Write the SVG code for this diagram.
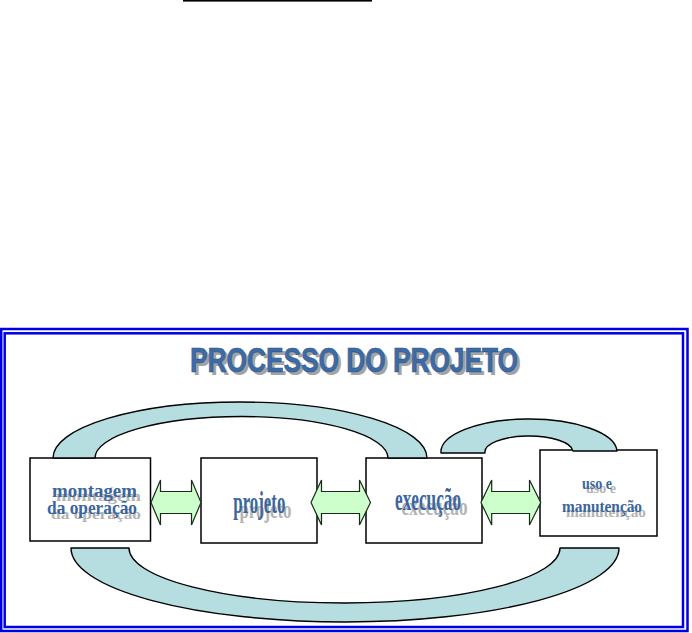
<svg xmlns="http://www.w3.org/2000/svg" width="692" height="633" viewBox="0 0 692 633">
  <style>
    .frame { fill: none; stroke: #0000e0; stroke-width: 2.5; }
    .box { fill: #ffffff; stroke: #000000; stroke-width: 1.5; }
    .arc { fill: #b6dde0; stroke: #000000; stroke-width: 1.4; stroke-linejoin: round; }
    .dbl { fill: #ccffcc; stroke: #1a2a1a; stroke-width: 1.2; stroke-linejoin: miter; }
    .lbl { font-family: "Liberation Serif", "Times New Roman", serif; font-weight: bold; fill: #3b669d; }
    .shd { font-family: "Liberation Serif", "Times New Roman", serif; font-weight: bold; fill: #9a9a9a; opacity: 0.75; }
    .title { font-family: "Liberation Sans", Arial, sans-serif; font-weight: bold; font-size: 35px; }
  </style>

  <rect x="183" y="0" width="189" height="1.6" fill="#000000"/>

  <rect class="frame" x="1.2" y="329" width="686.3" height="302"/>
  <rect class="frame" x="4.7" y="333.3" width="678.3" height="293.7"/>

  <g id="title">
    <text class="title" x="193" y="374.5" textLength="328" lengthAdjust="spacingAndGlyphs" fill="#a3a3a3">PROCESSO DO PROJETO</text>
    <text class="title" x="190" y="371.5" textLength="328" lengthAdjust="spacingAndGlyphs" fill="#3d6ba6" stroke="#2b5388" stroke-width="0.6">PROCESSO DO PROJETO</text>
  </g>

  <g id="node-montagem">
    <rect class="box" x="30" y="458" width="120.5" height="83"/>
    <text class="shd" font-size="19" transform="translate(56,501) scale(1,0.8)" textLength="85" lengthAdjust="spacingAndGlyphs">montagem</text>
    <text class="shd" font-size="19" transform="translate(51,519) scale(1,0.8)" textLength="90" lengthAdjust="spacingAndGlyphs">da operação</text>
    <text class="lbl" font-size="19" x="52" y="496.7" textLength="85" lengthAdjust="spacingAndGlyphs">montagem</text>
    <text class="lbl" font-size="19" x="47" y="514" textLength="90" lengthAdjust="spacingAndGlyphs">da operação</text>
  </g>

  <g id="node-projeto">
    <rect class="box" x="201" y="458" width="116" height="85"/>
    <text class="shd" font-size="31" transform="translate(239.5,518) scale(1,0.8)" textLength="52" lengthAdjust="spacingAndGlyphs">projeto</text>
    <text class="lbl" font-size="31" x="233.3" y="512.7" textLength="52" lengthAdjust="spacingAndGlyphs">projeto</text>
  </g>

  <g id="node-execucao">
    <rect class="box" x="366" y="458" width="116" height="85"/>
    <text class="shd" font-size="31" transform="translate(401.5,515) scale(1,0.8)" textLength="66" lengthAdjust="spacingAndGlyphs">execução</text>
    <text class="lbl" font-size="31" x="395" y="510" textLength="66" lengthAdjust="spacingAndGlyphs">execução</text>
  </g>

  <g id="node-uso">
    <rect class="box" x="540" y="450" width="117" height="86"/>
    <text class="shd" font-size="17" transform="translate(586,493) scale(1,0.8)" textLength="30" lengthAdjust="spacingAndGlyphs">uso e</text>
    <text class="shd" font-size="17" transform="translate(566,516.5) scale(1,0.8)" textLength="80" lengthAdjust="spacingAndGlyphs">manutenção</text>
    <text class="lbl" font-size="17" x="582" y="489" textLength="30" lengthAdjust="spacingAndGlyphs">uso e</text>
    <text class="lbl" font-size="17" x="562" y="512.3" textLength="80" lengthAdjust="spacingAndGlyphs">manutenção</text>
  </g>

  <g id="connectors">
    <path class="arc" d="M 53 458 A 187 56 0 0 1 427 458 L 388 458 A 146.5 41.5 0 0 0 95 458 Z"/>
    <path class="arc" d="M 441 453 A 88 33 0 0 1 617 451 L 573 451 A 44 16 0 0 0 485 453 Z"/>
    <path class="arc" d="M 71 548 A 274 74 0 0 0 619 548 L 560 548 A 215.5 55 0 0 1 129 548 Z"/>
    <polygon class="dbl" points="151,502.5 160.5,480 160.5,491.5 191.5,491.5 191.5,480 201,502.5 191.5,525 191.5,513.5 160.5,513.5 160.5,525"/>
    <polygon class="dbl" points="311,502.5 321.5,480 321.5,491.5 359.5,491.5 359.5,480 370.5,502.5 359.5,525 359.5,513.5 321.5,513.5 321.5,525"/>
    <polygon class="dbl" points="481,502.5 491.7,480 491.7,491.5 529.5,491.5 529.5,480 540.7,502.5 529.5,525 529.5,513.5 491.7,513.5 491.7,525"/>
  </g>
</svg>
